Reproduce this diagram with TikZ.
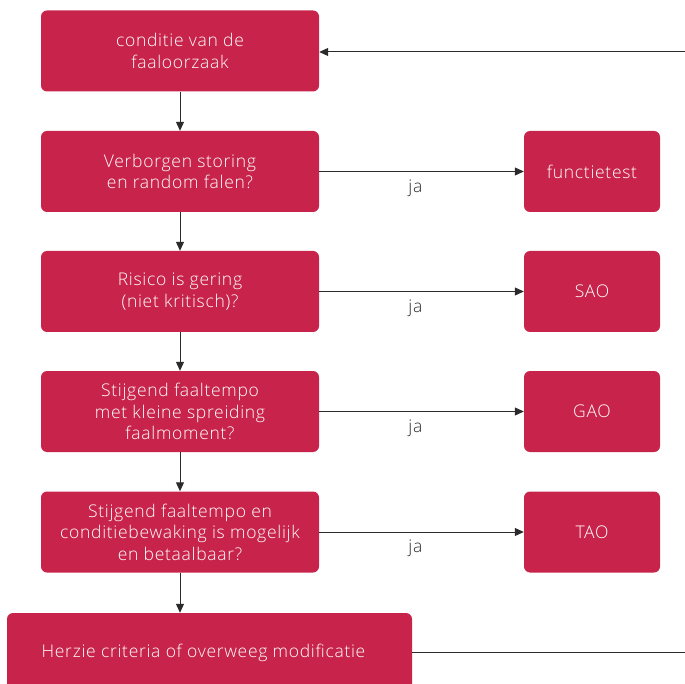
\documentclass[tikz,border=0pt]{standalone}
\usepackage{fontspec}
\setmainfont{Open Sans Light}[LetterSpace=4]
\usetikzlibrary{arrows.meta}
\definecolor{crimson}{HTML}{C8234A}
\definecolor{linegray}{HTML}{2B2B2B}
\begin{document}
\begin{tikzpicture}[x=1pt,y=-1pt,
  box/.style={fill=crimson, rounded corners=6pt, text=white, align=center,
    font=\fontsize{17.5}{21.5}\selectfont, inner sep=0pt},
  leftbox/.style={box, minimum width=278pt, minimum height=81pt},
  rightbox/.style={box, minimum width=136pt, minimum height=81pt},
  conn/.style={draw=linegray, line width=1pt, -{Triangle[length=9pt,width=8pt]}},
  plain/.style={draw=linegray, line width=1pt},
  lbl/.style={font=\fontsize{17.5}{18}\selectfont, text=linegray}]
\useasboundingbox (0,0) rectangle (685,684);

% decision column
\node[leftbox] (cond) at (180,51) {conditie van de\\faaloorzaak};
\node[leftbox] (q1) at (180,171.5) {Verborgen storing\\en random falen?};
\node[leftbox] (q2) at (180,291.5) {Risico is gering\\(niet kritisch)?};
\node[leftbox] (q3) at (180,411.5) {Stijgend faaltempo\\met kleine spreiding\\faalmoment?};
\node[leftbox] (q4) at (180,532) {Stijgend faaltempo en\\conditiebewaking is mogelijk\\en betaalbaar?};
\node[box, minimum width=405pt, minimum height=80pt] (mod) at (209.5,653)
  {Herzie criteria of overweeg modificatie\hspace*{12pt}};

% outcomes
\node[rightbox] (ft) at (592,171.5) {functietest};
\node[rightbox] (sao) at (592,291.5) {SAO};
\node[rightbox] (gao) at (592,411.5) {GAO};
\node[rightbox] (tao) at (592,532) {TAO};

% vertical flow
\draw[conn] (cond) -- (q1);
\draw[conn] (q1) -- (q2);
\draw[conn] (q2) -- (q3);
\draw[conn] (q3) -- (q4);
\draw[conn] (q4.south) -- (q4.south |- mod.north);

% "ja" branches
\foreach \a/\b in {q1/ft, q2/sao, q3/gao, q4/tao}
  \draw[conn] (\a) -- node[lbl, pos=0.47, below=4pt] {ja} (\b);

% loop back to the start
\coordinate (loopB) at (695,652);
\coordinate (loopT) at (695,52);
\draw[plain] (mod.east |- loopB) -- (loopB) -- (loopT);
\draw[conn] (loopT) -- (cond.east |- loopT);
\end{tikzpicture}
\end{document}
